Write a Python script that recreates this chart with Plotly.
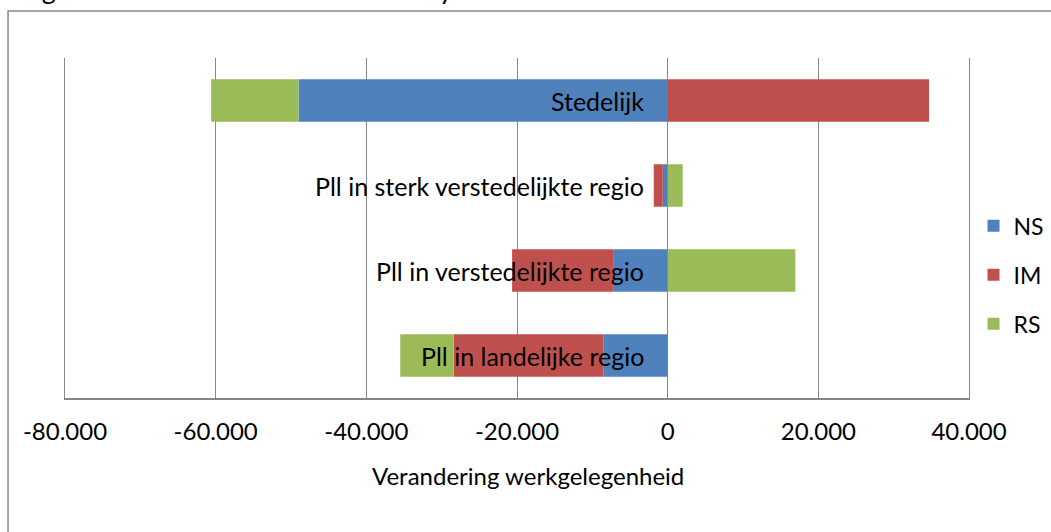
import plotly.graph_objects as go

categories = ["Pll in landelijke regio", "Pll in verstedelijkte regio",
              "Pll in sterk verstedelijkte regio", "Stedelijk"]
ns_values = [-8500, -7150, -650, -49000]
im_values = [-19900, -13500, -1200, 34700]
rs_values = [-7100, 16950, 2000, -11600]

tick_vals = [-80000, -60000, -40000, -20000, 0, 20000, 40000]
tick_text = ["-80.000", "-60.000", "-40.000", "-20.000", "0", "20.000", "40.000"]

title_text = "Figuur 4.4 Absolute shift-share analyse 2008 - 2013"
x_title = "Verandering werkgelegenheid"

FONT = "Lato"
GRID = "#878787"
series = [("NS", ns_values, "#4F81BD"), ("IM", im_values, "#C0504D"), ("RS", rs_values, "#9BBB59")]

fig = go.Figure()
for name, vals, color in series:
    fig.add_trace(go.Bar(
        y=categories, x=vals, name=name, orientation="h",
        marker=dict(color=color, line=dict(width=0)),
        legendgroup=name,
    ))

annotations = []
for cat in categories:
    annotations.append(dict(
        x=0, y=cat, xref="x", yref="y", text=cat, showarrow=False,
        xanchor="right", yanchor="middle", xshift=-22,
        font=dict(family=FONT, size=25, color="#000000"),
    ))
annotations.append(dict(
    x=0.512, y=-0.228, xref="paper", yref="paper", text=x_title, showarrow=False,
    xanchor="center", yanchor="middle",
    font=dict(family=FONT, size=24, color="#000000"),
))
annotations.append(dict(
    x=-0.052, y=1.150, xref="paper", yref="paper", text=title_text, showarrow=False,
    xanchor="left", yanchor="bottom",
    font=dict(family=FONT, size=27, color="#000000"),
))

fig.update_layout(
    width=1051, height=532,
    margin=dict(l=65, r=82, t=58, b=134, autoexpand=False),
    paper_bgcolor="white", plot_bgcolor="white",
    barmode="relative", bargap=0.5,
    font=dict(family=FONT, size=24, color="#000000"),
    showlegend=True,
    legend=dict(
        x=1.005, xanchor="left", y=0.362, yanchor="middle",
        traceorder="grouped", tracegroupgap=16,
        font=dict(family=FONT, size=23, color="#000000"),
        bgcolor="rgba(0,0,0,0)",
    ),
    xaxis=dict(
        range=[-80000, 40000], tickvals=tick_vals, ticktext=tick_text,
        showgrid=True, gridcolor=GRID, gridwidth=1.3,
        zeroline=False, showline=True, linecolor=GRID, linewidth=1.5,
        ticks="", ticklabelstandoff=11,
        tickfont=dict(family=FONT, size=24, color="#000000"),
        fixedrange=True,
    ),
    yaxis=dict(
        showticklabels=False, showgrid=False, zeroline=False,
        showline=True, mirror=True, linecolor=GRID, linewidth=1.3,
        ticks="", fixedrange=True,
    ),
    annotations=annotations,
    shapes=[dict(
        type="rect", xref="paper", yref="paper",
        x0=-0.063, x1=1.3, y0=-0.6, y1=1.138,
        line=dict(color="#8A8A8A", width=1.5), fillcolor="rgba(0,0,0,0)", layer="below",
    )],
)

fig.write_html(
    "out.html",
    config={"displayModeBar": False},
    post_script="document.body.style.margin='0';document.body.style.overflow='hidden';",
)
